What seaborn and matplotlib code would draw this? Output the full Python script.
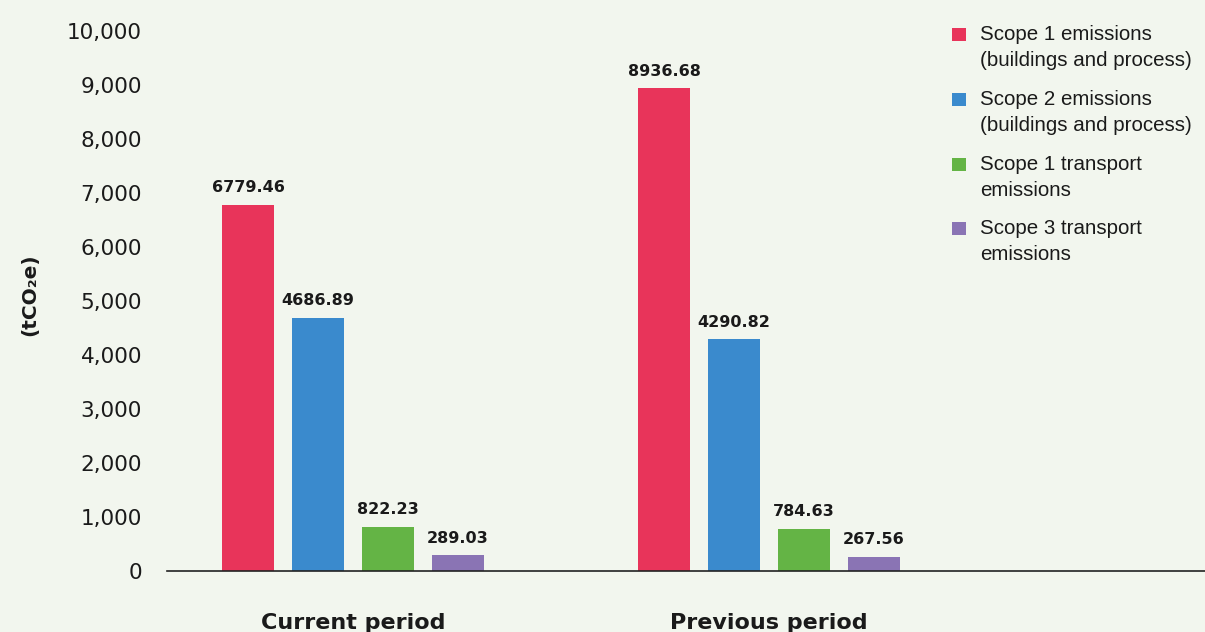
import matplotlib
matplotlib.use("Agg")
import matplotlib.pyplot as plt
import seaborn as sns
import pandas as pd
from matplotlib.patches import Rectangle

periods = ["Current period", "Previous period"]
series = [
    "Scope 1 emissions\n(buildings and process)",
    "Scope 2 emissions\n(buildings and process)",
    "Scope 1 transport\nemissions",
    "Scope 3 transport\nemissions",
]
current_values = [6779.46, 4686.89, 822.23, 289.03]
previous_values = [8936.68, 4290.82, 784.63, 267.56]
colors = ["#E8345A", "#3A8ACD", "#64B445", "#8A74B4"]
yticks = [0, 1000, 2000, 3000, 4000, 5000, 6000, 7000, 8000, 9000, 10000]

rows = []
for s, c, p in zip(series, current_values, previous_values):
    rows.append({"period": periods[0], "series": s, "value": c})
    rows.append({"period": periods[1], "series": s, "value": p})
df = pd.DataFrame(rows)

bg = "#F2F6EE"
sns.set_theme(style="white")
plt.rcParams["font.family"] = ["DejaVu Sans"]

W, H = 1205, 632
fig = plt.figure(figsize=(W/100, H/100), dpi=100, facecolor=bg)
ax = fig.add_axes([167/W, 1-571/H, (W-167)/W, (571-31)/H])
ax.set_facecolor(bg)

sns.barplot(data=df, x="period", y="value", hue="series", order=periods,
            hue_order=series, palette=colors, width=0.673, gap=0.245,
            saturation=1, ax=ax, legend=False, linewidth=0, edgecolor="none")

for cont in ax.containers:
    ax.bar_label(cont, fmt="%.2f", padding=7, fontsize=11.5, fontweight="bold",
                 color="#1a1a1a")

ax.set_xlim(-0.447, 2.048)
ax.set_ylim(0, 10000)
ax.set_yticks(yticks)
ax.set_yticklabels([f"{v:,}" for v in yticks], fontsize=15.5, color="#1a1a1a")
ax.tick_params(axis="y", length=0, pad=18)
ax.tick_params(axis="x", length=0, pad=30, labelsize=16, labelcolor="#1a1a1a")
for lbl in ax.get_xticklabels():
    lbl.set_fontweight("bold")
ax.set_xlabel("")
ax.set_ylabel("")
fig.text(30/W, 1-295/H, "(tCO\u2082e)", rotation=90, va="center", ha="center",
         fontsize=14.5, fontweight="bold", color="#1a1a1a")

for sp in ["top", "right", "left"]:
    ax.spines[sp].set_visible(False)
ax.spines["bottom"].set_color("#222222")
ax.spines["bottom"].set_linewidth(1.2)

# legend (drawn manually so the swatch aligns with the first text line)
legend_tops = [34, 99, 164, 228]
for s, c, yc in zip(series, colors, legend_tops):
    fig.patches.append(Rectangle((952/W, 1-(yc+6.5)/H), 14/W, 13/H,
                                 transform=fig.transFigure, facecolor=c,
                                 edgecolor="none"))
    fig.text(980/W, 1-(yc-9)/H, s, ha="left", va="top",
             family="Liberation Sans", fontsize=14.8, color="#1a1a1a",
             linespacing=1.45)

fig.savefig("out.png", dpi=100, facecolor=bg)
